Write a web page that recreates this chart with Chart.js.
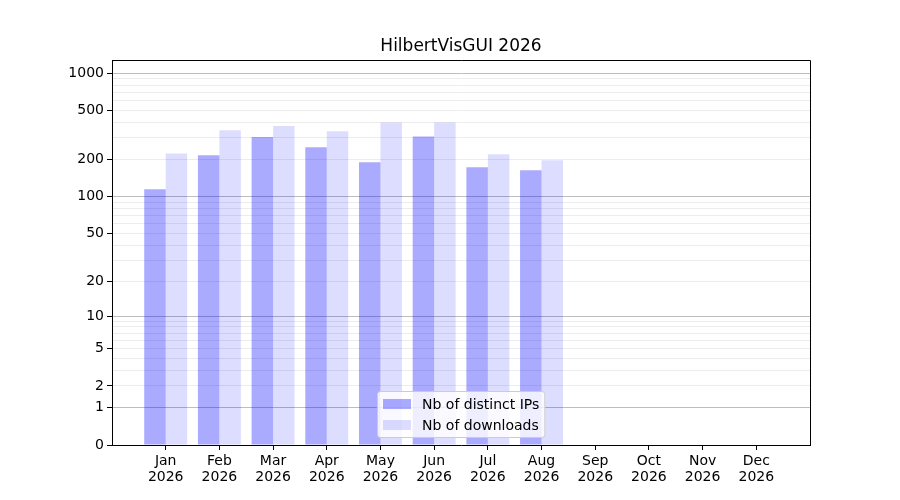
<!DOCTYPE html>
<html>
<head>
<meta charset="utf-8">
<title>HilbertVisGUI 2026</title>
<script src="https://cdn.jsdelivr.net/npm/chart.js@4.4.1/dist/chart.umd.min.js"></script>
<style>
  html, body { margin: 0; padding: 0; background: #fff; }
</style>
</head>
<body>
<canvas id="graphique" width="900" height="500"></canvas>
<script>
var months = ['Jan', 'Feb', 'Mar', 'Apr', 'May', 'Jun', 'Jul', 'Aug', 'Sep', 'Oct', 'Nov', 'Dec'];
var year = '2026';
var distinctIPs = [115, 217, 305, 252, 191, 309, 174, 164, 0, 0, 0, 0];
var downloads = [225, 346, 375, 340, 401, 401, 221, 198, 0, 0, 0, 0];

// y axis (log10(1 + v) scale)
var labelTicks = [0, 1, 2, 5, 10, 20, 50, 100, 200, 500, 1000];
var majorTicks = [1, 10, 100, 1000];
var minorTicks = [2, 3, 4, 5, 6, 7, 8, 9, 20, 30, 40, 50, 60, 70, 80, 90,
                  200, 300, 400, 500, 600, 700, 800, 900];
var yTop = 1272;

var FONT = '"DejaVu Sans", sans-serif';

function tf(v) { return Math.log10(1 + v); }
function untf(t) { return Math.round(Math.pow(10, t) - 1); }

function points(values) {
  return values.map(function(v, i) { return { x: i, y: tf(v) }; });
}

// legend box inside the plot + top/right frame
var boxLegend = {
  id: 'boxLegend',
  afterDatasetsDraw: function(chart) {
    var ctx = chart.ctx, ca = chart.chartArea;
    var fs = 14, pad = 5.5, handle = 28, textPad = 11, spacing = 7;
    var items = chart.data.datasets;
    ctx.save();
    ctx.font = fs + 'px ' + FONT;
    var textW = 0;
    items.forEach(function(d) { textW = Math.max(textW, ctx.measureText(d.label).width); });
    var w = pad + handle + textPad + textW + pad;
    var h = pad * 2 + items.length * fs + (items.length - 1) * spacing;
    var x0 = Math.round((ca.left + ca.right) / 2 - w / 2) + 0.5;
    var y0 = Math.round(ca.bottom - 8 - h) + 0.5;
    ctx.beginPath();
    ctx.roundRect(x0, y0, w, h, 3);
    ctx.fillStyle = 'rgba(255,255,255,0.8)';
    ctx.fill();
    ctx.strokeStyle = '#cccccc';
    ctx.lineWidth = 1;
    ctx.stroke();
    items.forEach(function(d, i) {
      var cy = y0 + pad + i * (fs + spacing) + fs / 2;
      ctx.fillStyle = d.backgroundColor;
      ctx.fillRect(x0 + pad, cy - 5, handle, 10);
      ctx.fillStyle = '#000';
      ctx.textBaseline = 'middle';
      ctx.textAlign = 'left';
      ctx.fillText(d.label, x0 + pad + handle + textPad, cy + 1);
    });
    ctx.restore();
  },
  afterDraw: function(chart) {
    var ctx = chart.ctx, ca = chart.chartArea;
    ctx.save();
    ctx.strokeStyle = '#000';
    ctx.lineWidth = 1;
    ctx.beginPath();
    ctx.moveTo(Math.round(ca.left), Math.round(ca.top) + 0.5);
    ctx.lineTo(Math.round(ca.right) + 0.5, Math.round(ca.top) + 0.5);
    ctx.lineTo(Math.round(ca.right) + 0.5, Math.round(ca.bottom));
    ctx.stroke();
    ctx.restore();
  }
};

Chart.defaults.font.family = FONT;
Chart.defaults.color = '#000';

var ctx = document.getElementById('graphique');
var barGraph = new Chart(ctx, {
  type: 'bar',
  data: {
    datasets: [
      {
        label: 'Nb of distinct IPs',
        backgroundColor: 'rgba(0, 0, 255, 0.333)',
        data: points(distinctIPs)
      },
      {
        label: 'Nb of downloads',
        backgroundColor: 'rgba(0, 0, 255, 0.133)',
        data: points(downloads)
      }
    ]
  },
  options: {
    responsive: false,
    animation: false,
    devicePixelRatio: 1,
    layout: { padding: { left: 0, right: 90, top: 0, bottom: 0 } },
    datasets: { bar: { categoryPercentage: 0.8, barPercentage: 1.0 } },
    plugins: {
      legend: { display: false },
      tooltip: { enabled: false },
      title: {
        display: true,
        text: 'HilbertVisGUI ' + year,
        fullSize: false,
        color: '#000',
        font: { size: 17, weight: 'normal', family: FONT },
        padding: { top: 36, bottom: 4 }
      }
    },
    scales: {
      x: {
        type: 'linear',
        min: -1,
        max: 12,
        offset: false,
        afterBuildTicks: function(scale) {
          scale.ticks = months.map(function(m, i) { return { value: i }; });
        },
        afterFit: function(scale) { scale.height = 55; },
        ticks: {
          autoSkip: false,
          maxRotation: 0,
          padding: 3,
          font: { size: 14, lineHeight: 1.15 },
          callback: function(value) { return [months[value], year]; }
        },
        grid: { offset: false, drawOnChartArea: false, color: '#000', tickLength: 5 },
        border: { color: '#000', width: 1 }
      },
      y: {
        type: 'linear',
        min: 0,
        max: tf(yTop),
        afterBuildTicks: function(scale) {
          var all = [0].concat(majorTicks, minorTicks).sort(function(a, b) { return a - b; });
          all = all.filter(function(v, i) { return all.indexOf(v) === i; });
          scale.ticks = all.map(function(v) { return { value: tf(v) }; });
        },
        afterFit: function(scale) { scale.width = 112; },
        ticks: {
          autoSkip: false,
          padding: 3,
          font: { size: 14 },
          callback: function(value) {
            var raw = untf(value);
            return labelTicks.indexOf(raw) >= 0 ? String(raw) : '';
          }
        },
        grid: {
          tickLength: 5,
          lineWidth: 1,
          color: function(c) {
            var raw = untf(c.tick.value);
            if (raw === 0) return 'rgba(0,0,0,0)';
            return majorTicks.indexOf(raw) >= 0 ? '#bdbdbd' : '#ececec';
          },
          tickColor: function(c) {
            var raw = untf(c.tick.value);
            return labelTicks.indexOf(raw) >= 0 ? '#000' : 'rgba(0,0,0,0)';
          }
        },
        border: { color: '#000', width: 1 }
      }
    }
  },
  plugins: [boxLegend]
});
</script>
</body>
</html>
